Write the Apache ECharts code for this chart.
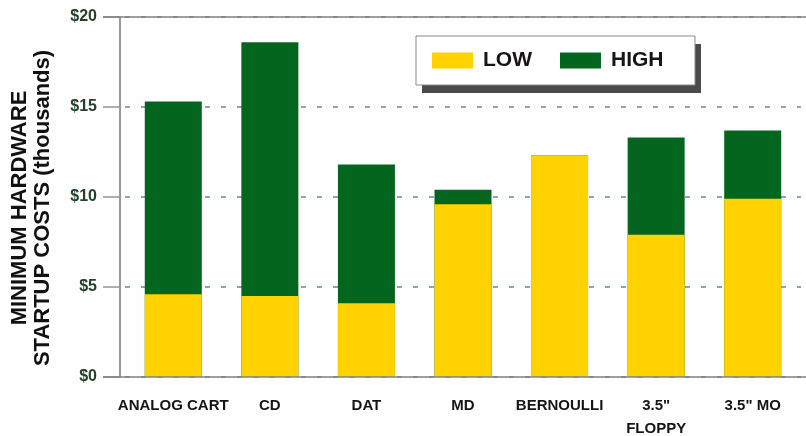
<!DOCTYPE html>
<html>
<head>
<meta charset="utf-8">
<script src="https://cdn.jsdelivr.net/npm/echarts@6/dist/echarts.min.js"></script>
<style>
html, body { margin: 0; padding: 0; background: #fefefe; }
#chart { width: 806px; height: 436px; }
</style>
</head>
<body>
<div id="chart"></div>
<script>
// categories along the bottom
const categories = ['ANALOG CART', 'CD', 'DAT', 'MD', 'BERNOULLI', '3.5"\nFLOPPY', '3.5" MO'];
// low / high startup cost, thousands of dollars
const lowCost = [4.6, 4.5, 4.1, 9.6, 12.3, 7.9, 9.9];
const highCost = [15.3, 18.6, 11.8, 10.4, 12.3, 13.3, 13.7];
// y axis ticks
const yTicks = [0, 5, 10, 15, 20];

const yellow = '#ffd200';
const green = '#04661e';

var chartDom = document.getElementById('chart');
var myChart = echarts.init(chartDom);
var option;
option = {
    backgroundColor: '#fefefe',
    animation: false,
    grid: {
        left: 125,
        right: 5,
        top: 17,
        bottom: 59,
        outerBoundsMode: 'none'
    },
    legend: {
        data: ['LOW', 'HIGH'],
        left: 416,
        top: 36,
        padding: [14, 30, 14, 16],
        itemGap: 28,
        itemWidth: 41,
        itemHeight: 16,
        icon: 'rect',
        z: 10,
        textStyle: {
            fontFamily: 'Liberation Sans',
            fontSize: 21,
            fontWeight: 'bold',
            color: '#1a1414',
            padding: [0, 0, 0, 5]
        }
    },
    xAxis: {
        type: 'category',
        data: categories,
        axisLine: { show: false },
        axisTick: {
            alignWithLabel: true,
            length: 14,
            lineStyle: { color: '#888', width: 1.5 }
        },
        axisLabel: {
            interval: 0,
            margin: 17,
            fontFamily: 'Liberation Sans',
            fontSize: 15,
            fontWeight: 'bold',
            color: '#151515',
            lineHeight: 23
        }
    },
    yAxis: {
        type: 'value',
        min: yTicks[0],
        max: yTicks[yTicks.length - 1],
        interval: yTicks[1] - yTicks[0],
        offset: 5,
        axisLine: { show: true, lineStyle: { color: '#777', width: 1.5 } },
        axisTick: { show: true, length: 17, lineStyle: { color: '#8a9a9a', width: 1.5 } },
        axisLabel: {
            margin: 23,
            fontFamily: 'Liberation Sans',
            fontSize: 16,
            fontWeight: 'bold',
            color: '#24402a',
            formatter: v => '$' + v
        },
        splitLine: {
            show: true,
            lineStyle: { color: '#7fa8c4', width: 2, type: [5, 11] }
        }
    },
    graphic: [
        // frame lines at $20 and $0
        {
            type: 'line',
            shape: { x1: 103, y1: 17, x2: 806, y2: 17 },
            style: { stroke: '#808080', lineWidth: 1.5 },
            z: 50
        },
        {
            type: 'line',
            shape: { x1: 103, y1: 377, x2: 806, y2: 377 },
            style: { stroke: '#808080', lineWidth: 1.5 },
            z: 50
        },
        // legend box and its drop shadow
        {
            type: 'rect',
            shape: { x: 422, y: 44, width: 279, height: 49 },
            style: { fill: '#4a4a4a' },
            z: 5
        },
        {
            type: 'rect',
            shape: { x: 416, y: 36, width: 279, height: 49 },
            style: { fill: '#ffffff', stroke: '#8a8a8a', lineWidth: 1 },
            z: 6
        },
        // y axis title
        {
            type: 'text',
            x: 31,
            y: 208,
            rotation: Math.PI / 2,
            style: {
                text: 'MINIMUM HARDWARE\nSTARTUP COSTS (thousands)',
                font: 'bold 22px "Liberation Sans"',
                fill: '#111',
                align: 'center',
                verticalAlign: 'middle',
                lineHeight: 23
            }
        }
    ],
    series: [
        {
            name: 'HIGH',
            type: 'bar',
            data: highCost,
            barWidth: 57,
            itemStyle: { color: green }
        },
        {
            name: 'LOW',
            type: 'bar',
            data: lowCost,
            barWidth: 57,
            barGap: '-100%',
            itemStyle: { color: yellow }
        }
    ]
};

option && myChart.setOption(option);
</script>
</body>
</html>
